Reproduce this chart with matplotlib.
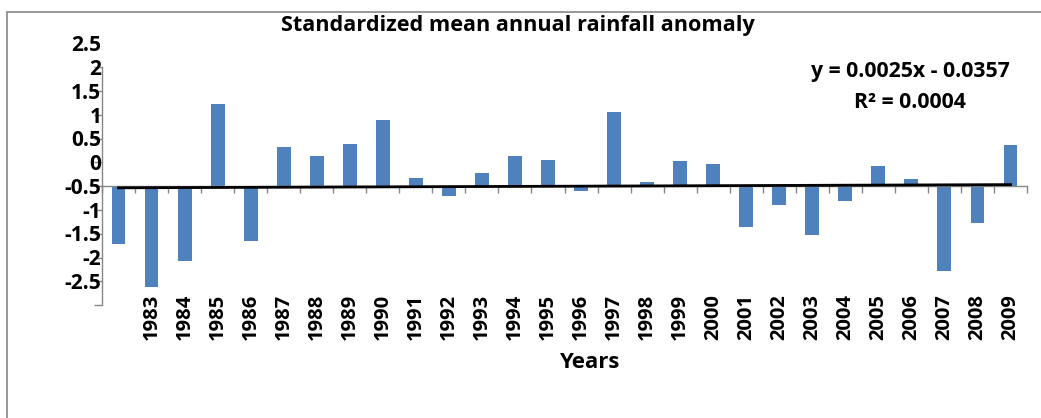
import numpy as np
import matplotlib
matplotlib.use("Agg")
import matplotlib.pyplot as plt
import matplotlib.transforms as mtransforms
from matplotlib.patches import Rectangle

plt.rcParams["font.family"] = ["Open Sans", "DejaVu Sans"]
plt.rcParams["font.weight"] = "bold"

# Standardized anomalies (first category has no year label)
years = ["", "1983", "1984", "1985", "1986", "1987", "1988", "1989", "1990",
         "1991", "1992", "1993", "1994", "1995", "1996", "1997", "1998",
         "1999", "2000", "2001", "2002", "2003", "2004", "2005", "2006",
         "2007", "2008", "2009"]
anomaly = [-1.21, -2.12, -1.58, 1.73, -1.15, 0.83, 0.64, 0.89, 1.39,
           0.18, -0.20, 0.28, 0.63, 0.55, -0.10, 1.56, 0.08,
           0.53, 0.46, -0.85, -0.39, -1.03, -0.31, 0.42, 0.15,
           -1.79, -0.77, 0.86]

# Excel linear trendline as printed on the chart
slope = 0.0025
intercept = -0.0357
y_ticks = [2.5, 2, 1.5, 1, 0.5, 0, -0.5, -1, -1.5, -2, -2.5]

bar_color = "#4F81BD"
axis_grey = "#868686"

fig = plt.figure(figsize=(10.41, 4.18), dpi=100)
ax = fig.add_axes([102 / 1041, 1 - 305 / 418, 925 / 1041, 237.5 / 418])

x = np.arange(len(anomaly))
ax.bar(x, anomaly, width=0.42, color=bar_color, zorder=2)

# trendline, x counted 1..n like Excel
xt = np.arange(1, len(anomaly) + 1)
ax.plot(x, slope * xt + intercept, color="black", lw=2.0, zorder=3)

ax.set_xlim(-0.5, len(anomaly) - 0.5)
ax.set_ylim(-2.5, 2.5)

for side in ["top", "right"]:
    ax.spines[side].set_visible(False)
ax.spines["left"].set_color(axis_grey)
ax.spines["left"].set_linewidth(1.0)
ax.spines["bottom"].set_position(("data", 0))
ax.spines["bottom"].set_color(axis_grey)
ax.spines["bottom"].set_linewidth(1.0)

# category boundaries carry the tick marks
ax.set_xticks(np.arange(-0.5, len(anomaly), 1.0))
ax.tick_params(axis="x", direction="out", length=5, width=1, color=axis_grey,
               labelbottom=False)

ax.set_yticks(y_ticks)
ax.set_yticklabels([f"{v:g}" for v in y_ticks], fontsize=15, fontweight="bold")
ax.tick_params(axis="y", direction="out", length=6, width=1, color=axis_grey, pad=-5.5)
# labels sit half a step above their ticks in the original
shift = mtransforms.ScaledTranslation(0, 0.24, fig.dpi_scale_trans)
for lab in ax.get_yticklabels():
    lab.set_transform(lab.get_transform() + shift)

# year labels along the bottom
sec = ax.secondary_xaxis(0.046)
sec.spines["bottom"].set_visible(False)
sec.set_xticks(x)
sec.set_xticklabels(years, rotation=90, fontsize=14.5, fontweight="bold")
sec.tick_params(length=0, pad=0)

fig.text(589 / 1041, 1 - 362 / 418, "Years", ha="center", va="center",
         fontsize=16, fontweight="bold")
fig.text(518 / 1041, 1 - 25 / 418, "Standardized mean annual rainfall anomaly",
         ha="center", va="center", fontsize=15.6, fontweight="bold")
fig.text(910 / 1041, 1 - 72 / 418, f"y = {slope}x - {abs(intercept)}",
         ha="center", va="center", fontsize=15.3, fontweight="bold")
fig.text(910 / 1041, 1 - 102 / 418, "R² = 0.0004",
         ha="center", va="center", fontsize=15.3, fontweight="bold")

# chart frame, only its left and top edges fall inside the picture
fig.patches.append(Rectangle((7 / 1041, -0.1), 1.2, 1.1 - 12 / 418,
                             transform=fig.transFigure, fill=False,
                             edgecolor=axis_grey, lw=1.2))

fig.savefig("out.png", dpi=100)
